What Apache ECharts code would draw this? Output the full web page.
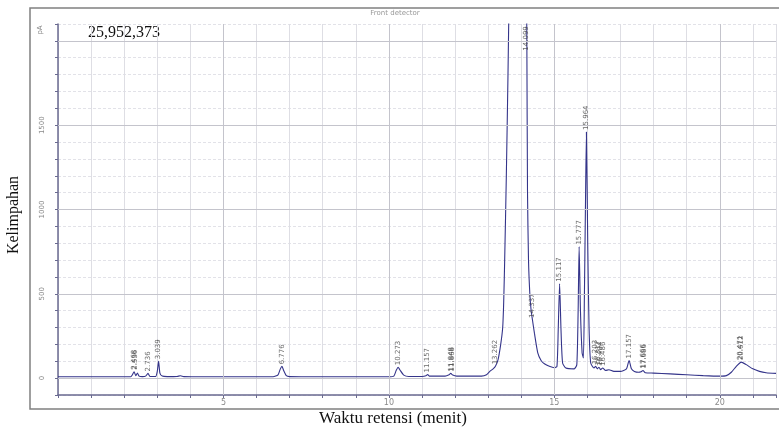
<!DOCTYPE html>
<html><head><meta charset="utf-8">
<script src="https://cdn.jsdelivr.net/npm/echarts@6/dist/echarts.min.js"></script>
<style>html,body{margin:0;padding:0;background:#fff}#c{width:779px;height:429px}</style>
</head><body><div id="c"></div>
<script>
// Chromatogram trace: [retention time (min), abundance (pA)]
const trace = [
 [0,8],[1,8],[2,8],[2.2,8],[2.25,20],[2.3,38],[2.35,15],[2.4,30],[2.45,12],[2.55,9],[2.65,12],[2.72,28],[2.78,10],
 [2.95,10],[3.0,40],[3.04,100],[3.08,30],[3.15,12],[3.3,9],[3.6,10],[3.7,14],[3.8,9],[4.5,8],[5.5,8],[6.5,8],
 [6.65,20],[6.72,55],[6.77,70],[6.82,45],[6.9,15],[7.0,9],[8,8],[9,8],[10,8],[10.15,12],[10.22,45],[10.28,65],
 [10.33,50],[10.45,18],[10.6,10],[11.0,10],[11.12,14],[11.17,22],[11.22,12],[11.7,12],[11.82,20],[11.87,28],
 [11.93,18],[12.05,12],[12.8,12],[12.95,20],[13.05,40],[13.15,55],[13.22,70],[13.3,110],[13.38,200],[13.44,300],
 [13.47,450],[13.5,700],[13.55,1200],[13.6,1800],[13.65,2500],[13.7,3000],[13.9,3200],[14.1,3300],[14.15,2600],
 [14.17,2000],[14.19,1100],[14.22,700],[14.26,500],[14.3,400],[14.34,345],[14.4,265],[14.5,150],[14.6,105],
 [14.7,85],[14.85,70],[15.0,62],[15.08,70],[15.12,300],[15.16,560],[15.2,300],[15.25,90],[15.35,60],[15.6,55],
 [15.68,80],[15.72,400],[15.75,780],[15.79,400],[15.84,150],[15.88,120],[15.91,500],[15.94,1000],[15.97,1460],
 [16.01,800],[16.05,300],[16.1,90],[16.2,60],[16.25,70],[16.3,55],[16.35,65],[16.4,50],[16.46,60],[16.55,45],
 [16.65,50],[16.8,40],[17.0,40],[17.18,55],[17.26,105],[17.33,55],[17.42,40],[17.55,35],[17.62,38],[17.68,45],
 [17.75,32],[18,30],[18.5,25],[19,20],[19.5,15],[20.0,12],[20.2,15],[20.35,35],[20.5,70],[20.65,95],[20.8,80],
 [21.0,55],[21.2,40],[21.4,32],[21.7,28]
];
// Peak annotations: time, apex value, label
const peakTimes  = [2.30, 2.33, 2.72, 3.04, 6.77, 10.28, 11.17, 11.87, 11.90, 13.22, 14.14, 14.34, 15.16, 15.75, 15.97, 16.25, 16.33, 16.40, 16.47, 17.26, 17.68, 17.71, 20.62, 20.66];
const peakValues = [38, 38, 28, 100, 70, 65, 22, 28, 28, 70, 1930, 345, 560, 780, 1460, 70, 65, 60, 60, 105, 45, 45, 95, 95];
const peakLabels = ["2.468","2.536","2.736","3.039","6.776","10.273","11.157","11.848","11.868","13.262","14.099","14.337","15.117","15.777","15.964","16.203","16.317","16.404","16.486","17.157","17.666","17.686","20.471","20.612"];
const yMajor = [0, 500, 1000, 1500, 2000];
const xMajor = [5, 10, 15, 20];

const chart = echarts.init(document.getElementById('c'));
chart.setOption({
  animation: false,
  backgroundColor: '#fff',
  grid: { left: 58, right: -2, top: 24, bottom: 34, containLabel: false },
  xAxis: {
    type: 'value', min: 0, max: 21.7, interval: 1,
    axisLine: { show: true, onZero: false, lineStyle: { color: '#6a6a90', width: 1.5 } },
    axisTick: { show: true, length: 3, lineStyle: { color: '#6a6a90' } },
    axisLabel: { fontSize: 8, color: '#8a8a8a', margin: 4, fontFamily: 'DejaVu Sans',
      formatter: v => (v % 5 === 0 && v > 0) ? String(v) : '' },
    splitLine: { show: true, lineStyle: { color: '#dedee4', width: 1 } }
  },
  yAxis: {
    type: 'value', min: -100, max: 2100, interval: 100,
    axisLine: { show: true, lineStyle: { color: '#6a6a90', width: 1.5 } },
    axisTick: { show: true, length: 3, lineStyle: { color: '#6a6a90' } },
    axisLabel: { fontSize: 7, color: '#8a8a8a', rotate: 90, margin: 12, fontFamily: 'DejaVu Sans',
      formatter: v => (v % 500 === 0 && v >= 0 && v <= 1500) ? String(v) : '' },
    splitLine: { show: true, lineStyle: { color: '#e2e2e8', width: 1, type: [3, 2] } }
  },
  series: [
    {
      type: 'line', data: trace, showSymbol: false, smooth: 0.2, clip: true,
      lineStyle: { color: '#34348a', width: 1.1 },
      markLine: {
        silent: true, symbol: 'none', label: { show: false },
        lineStyle: { color: '#c4c4cc', width: 1, type: 'solid' },
        data: yMajor.map(v => ({ yAxis: v })).concat(xMajor.map(v => ({ xAxis: v })))
      },
      z: 3
    },
    {
      type: 'scatter', symbolSize: 0,
      data: peakTimes.map((t, i) => ({ value: [t, peakValues[i]], name: peakLabels[i] })),
      label: { show: true, formatter: p => p.name, position: 'top', rotate: 90, align: 'left',
        verticalAlign: 'middle', distance: 2, fontSize: 7, color: '#444', fontFamily: 'DejaVu Sans' },
      z: 4
    }
  ],
  graphic: [
    { type: 'rect', shape: { x: 30, y: 8, width: 760, height: 401 }, style: { fill: 'none', stroke: '#808080', lineWidth: 1.5 }, z: 0, silent: true },
    { type: 'text', x: 395, y: 13, style: { text: 'Front detector', fontSize: 7, fill: '#999', align: 'center', verticalAlign: 'middle', fontFamily: 'DejaVu Sans' } },
    { type: 'text', x: 40, y: 30, rotation: Math.PI / 2, style: { text: 'pA', fontSize: 7, fill: '#888', align: 'center', verticalAlign: 'middle', fontFamily: 'DejaVu Sans' } },
    { type: 'text', x: 88, y: 33, style: { text: '25,952,373', fontSize: 16, fill: '#111', align: 'left', verticalAlign: 'middle', fontFamily: 'Liberation Serif' } },
    { type: 'text', x: 14, y: 215, rotation: Math.PI / 2, style: { text: 'Kelimpahan', fontSize: 16, fill: '#111', align: 'center', verticalAlign: 'middle', fontFamily: 'Liberation Serif' } },
    { type: 'text', x: 393, y: 419, style: { text: 'Waktu retensi (menit)', fontSize: 17, fill: '#111', align: 'center', verticalAlign: 'middle', fontFamily: 'Liberation Serif' } }
  ]
});
</script></body></html>
